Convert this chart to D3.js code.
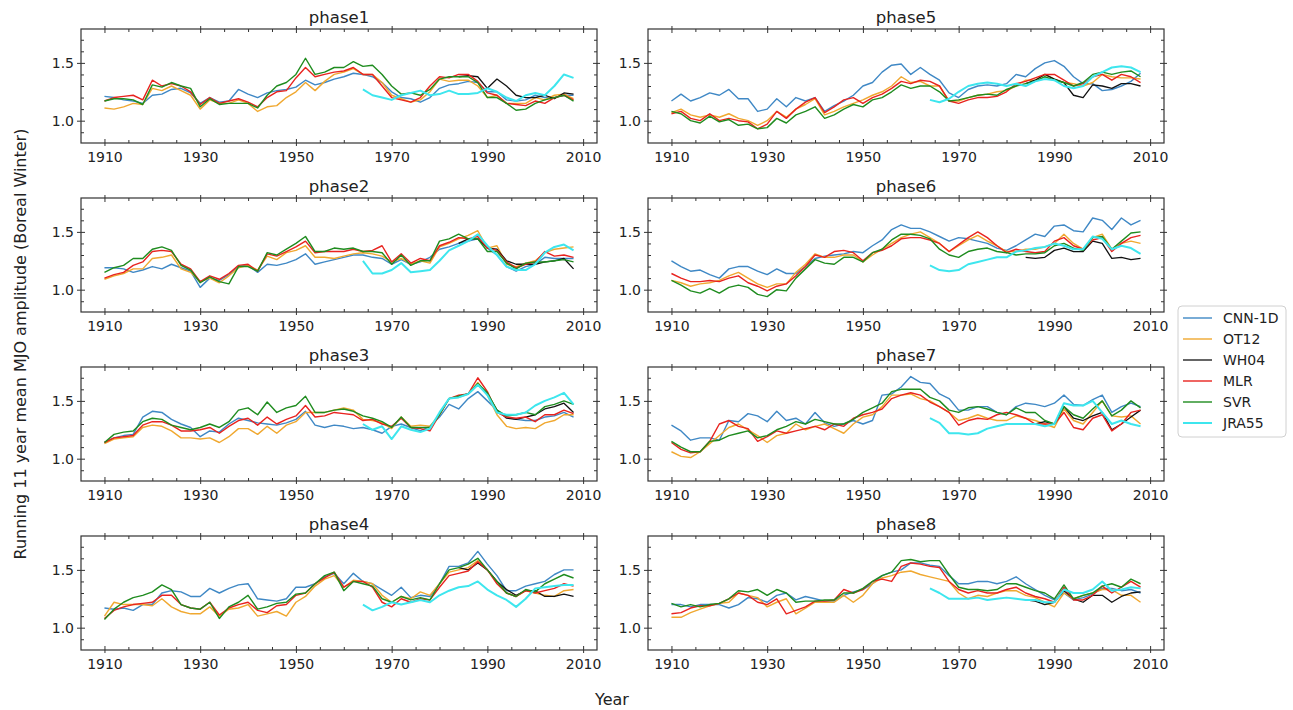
<!DOCTYPE html>
<html>
<head>
<meta charset="utf-8">
<script src="https://cdn.jsdelivr.net/npm/d3@7"></script>
<style>
body { margin: 0; background: #fff; }
text { font-family: "DejaVu Sans", sans-serif; fill: #222; }
</style>
</head>
<body>
<div id="chart"></div>
<script>

// years (every second year of the running mean)
var years = [1910,1912,1914,1916,1918,1920,1922,1924,1926,1928,1930,1932,1934,1936,1938,1940,1942,1944,1946,1948,
  1950,1952,1954,1956,1958,1960,1962,1964,1966,1968,1970,1972,1974,1976,1978,1980,1982,1984,1986,1988,
  1990,1992,1994,1996,1998,2000,2002,2004,2006,2008];
var whYears = [1984,1986,1988,1990,1992,1994,1996,1998,2000,2002,2004,2006,2008];
var jraYears = [1964,1966,1968,1970,1972,1974,1976,1978,1980,1982,1984,1986,1988,1990,1992,1994,1996,1998,2000,2002,2004,2006,2008];

var phases = ["phase1","phase2","phase3","phase4","phase5","phase6","phase7","phase8"];
var seriesNames = ["CNN-1D","OT12","WH04","MLR","SVR","JRA55"];
var xMajorTicks = [1910,1930,1950,1970,1990,2010];
var xMinorTicks = [1915,1920,1925,1935,1940,1945,1955,1960,1965,1975,1980,1985,1995,2000,2005];
var yMajorTicks = [1.0,1.5];
var yMinorTicks = [0.9,1.1,1.2,1.3,1.4,1.6,1.7];

// one row per phase
var cnn1d = [
  [1.21,1.20,1.18,1.17,1.15, 1.22,1.23,1.27,1.28,1.24, 1.15,1.20,1.16,1.17,1.27, 1.23,1.20,1.24,1.26,1.27, 1.29,1.35,1.31,1.33,1.36, 1.38,1.41,1.40,1.38,1.33, 1.25,1.20,1.19,1.16,1.20, 1.28,1.31,1.32,1.34,1.33, 1.25,1.25,1.18,1.17,1.18, 1.22,1.20,1.20,1.22,1.22],
  [1.19,1.19,1.18,1.15,1.17, 1.20,1.18,1.22,1.19,1.16, 1.02,1.10,1.08,1.13,1.20, 1.21,1.15,1.22,1.21,1.23, 1.26,1.31,1.22,1.24,1.26, 1.28,1.30,1.30,1.28,1.27, 1.22,1.26,1.22,1.24,1.28, 1.35,1.37,1.40,1.42,1.44, 1.36,1.30,1.20,1.16,1.20, 1.22,1.28,1.27,1.27,1.27],
  [1.14,1.18,1.20,1.21,1.36, 1.41,1.40,1.34,1.30,1.27, 1.19,1.24,1.23,1.30,1.35, 1.33,1.31,1.30,1.29,1.31, 1.34,1.41,1.29,1.27,1.29, 1.28,1.26,1.27,1.25,1.22, 1.28,1.30,1.27,1.24,1.28, 1.36,1.47,1.43,1.52,1.58, 1.50,1.42,1.36,1.34,1.33, 1.33,1.36,1.37,1.40,1.36],
  [1.17,1.16,1.17,1.15,1.20, 1.20,1.30,1.32,1.31,1.27, 1.27,1.34,1.30,1.34,1.37, 1.38,1.25,1.24,1.23,1.25, 1.35,1.35,1.38,1.44,1.47, 1.38,1.47,1.40,1.38,1.33, 1.28,1.35,1.26,1.28,1.27, 1.38,1.53,1.53,1.56,1.66, 1.55,1.45,1.32,1.32,1.36, 1.38,1.40,1.46,1.50,1.50],
  [1.17,1.23,1.17,1.20,1.24, 1.22,1.27,1.19,1.19,1.08, 1.10,1.19,1.12,1.20,1.17, 1.20,1.08,1.13,1.17,1.22, 1.30,1.33,1.42,1.48,1.49, 1.40,1.46,1.40,1.35,1.24, 1.20,1.27,1.30,1.31,1.30, 1.32,1.40,1.38,1.45,1.50, 1.52,1.47,1.38,1.32,1.32, 1.26,1.27,1.30,1.34,1.41],
  [1.25,1.20,1.16,1.17,1.13, 1.10,1.18,1.20,1.20,1.16, 1.13,1.18,1.14,1.14,1.20, 1.27,1.29,1.30,1.31,1.33, 1.32,1.38,1.43,1.52,1.56, 1.53,1.53,1.50,1.46,1.42, 1.45,1.44,1.42,1.40,1.36, 1.34,1.38,1.43,1.48,1.46, 1.55,1.56,1.51,1.50,1.62, 1.60,1.52,1.62,1.56,1.60],
  [1.29,1.24,1.16,1.18,1.18, 1.16,1.33,1.32,1.39,1.37, 1.32,1.41,1.33,1.35,1.30, 1.40,1.31,1.28,1.30,1.33, 1.30,1.33,1.55,1.56,1.62, 1.71,1.66,1.65,1.56,1.52, 1.42,1.42,1.45,1.45,1.40, 1.38,1.45,1.48,1.47,1.45, 1.48,1.55,1.47,1.46,1.51, 1.55,1.40,1.45,1.48,1.45],
  [1.20,1.20,1.18,1.20,1.20, 1.20,1.17,1.20,1.26,1.25, 1.22,1.28,1.30,1.24,1.27, 1.25,1.23,1.23,1.28,1.31, 1.33,1.38,1.45,1.48,1.50, 1.56,1.56,1.54,1.53,1.45, 1.38,1.38,1.40,1.40,1.38, 1.40,1.44,1.38,1.33,1.28, 1.24,1.30,1.24,1.26,1.29, 1.34,1.34,1.32,1.33,1.30]
];

var ot12 = [
  [1.11,1.10,1.12,1.15,1.14, 1.28,1.26,1.30,1.26,1.22, 1.10,1.18,1.15,1.15,1.18, 1.15,1.08,1.12,1.13,1.20, 1.25,1.33,1.26,1.34,1.40, 1.42,1.45,1.40,1.40,1.33, 1.22,1.19,1.16,1.18,1.25, 1.36,1.34,1.35,1.35,1.30, 1.20,1.22,1.15,1.15,1.15, 1.20,1.18,1.22,1.23,1.19],
  [1.09,1.12,1.14,1.18,1.18, 1.27,1.28,1.30,1.18,1.15, 1.07,1.10,1.06,1.12,1.19, 1.21,1.17,1.29,1.26,1.32, 1.34,1.38,1.28,1.28,1.27, 1.29,1.31,1.32,1.31,1.29, 1.24,1.27,1.22,1.25,1.23, 1.37,1.40,1.44,1.47,1.51, 1.36,1.38,1.22,1.20,1.23, 1.25,1.32,1.35,1.36,1.37],
  [1.13,1.17,1.18,1.19,1.27, 1.29,1.28,1.24,1.18,1.18, 1.17,1.18,1.14,1.19,1.26, 1.26,1.21,1.28,1.22,1.29, 1.32,1.40,1.40,1.40,1.42, 1.44,1.42,1.34,1.33,1.31, 1.26,1.36,1.28,1.29,1.28, 1.38,1.52,1.53,1.56,1.66, 1.55,1.38,1.28,1.26,1.27, 1.26,1.31,1.33,1.38,1.38],
  [1.10,1.22,1.20,1.20,1.20, 1.19,1.25,1.18,1.14,1.12, 1.12,1.18,1.10,1.16,1.17, 1.20,1.10,1.12,1.14,1.10, 1.22,1.27,1.36,1.42,1.45, 1.35,1.41,1.40,1.38,1.28, 1.22,1.27,1.25,1.31,1.28, 1.38,1.48,1.50,1.52,1.58, 1.50,1.40,1.30,1.27,1.32, 1.30,1.28,1.27,1.32,1.33],
  [1.07,1.10,1.05,1.03,1.05, 1.03,1.06,1.02,1.00,0.96, 1.00,1.08,1.03,1.10,1.14, 1.19,1.05,1.08,1.12,1.15, 1.18,1.22,1.25,1.30,1.38, 1.33,1.34,1.30,1.30,1.17, 1.17,1.20,1.22,1.23,1.25, 1.26,1.30,1.35,1.35,1.40, 1.36,1.33,1.32,1.30,1.33, 1.40,1.38,1.37,1.37,1.36],
  [1.08,1.06,1.03,1.05,1.06, 1.08,1.12,1.15,1.10,1.05, 1.02,1.05,1.05,1.15,1.22, 1.31,1.28,1.28,1.30,1.30, 1.24,1.30,1.35,1.40,1.45, 1.48,1.50,1.45,1.40,1.33, 1.38,1.43,1.47,1.42,1.38, 1.33,1.33,1.35,1.35,1.37, 1.40,1.48,1.40,1.35,1.45, 1.48,1.35,1.40,1.42,1.40],
  [1.06,1.02,1.01,1.06,1.13, 1.20,1.27,1.30,1.25,1.20, 1.14,1.20,1.22,1.30,1.25, 1.28,1.30,1.26,1.22,1.30, 1.36,1.38,1.45,1.55,1.55, 1.56,1.52,1.50,1.45,1.40, 1.33,1.35,1.38,1.35,1.33, 1.33,1.37,1.35,1.33,1.30, 1.27,1.43,1.33,1.30,1.40, 1.50,1.37,1.36,1.37,1.30],
  [1.09,1.09,1.13,1.16,1.19, 1.21,1.22,1.30,1.28,1.26, 1.18,1.22,1.25,1.12,1.17, 1.22,1.22,1.22,1.28,1.22, 1.28,1.38,1.43,1.45,1.48, 1.49,1.46,1.44,1.42,1.40, 1.30,1.25,1.28,1.27,1.30, 1.32,1.32,1.28,1.26,1.22, 1.18,1.30,1.25,1.28,1.30, 1.33,1.33,1.28,1.28,1.22]
];

var wh04 = [
  [1.38,1.39,1.38,1.28,1.36,1.30,1.22,1.20,1.20,1.22,1.19,1.24,1.23],
  [1.40,1.44,1.44,1.36,1.35,1.25,1.22,1.22,1.22,1.24,1.25,1.27,1.18],
  [1.54,1.56,1.64,1.56,1.42,1.35,1.34,1.36,1.38,1.43,1.45,1.48,1.40],
  [1.52,1.50,1.56,1.50,1.40,1.33,1.28,1.32,1.32,1.27,1.27,1.29,1.27],
  [1.32,1.35,1.40,1.36,1.33,1.22,1.20,1.31,1.30,1.28,1.32,1.32,1.30],
  [1.28,1.27,1.28,1.34,1.36,1.33,1.33,1.42,1.40,1.27,1.28,1.26,1.27],
  [1.30,1.30,1.32,1.30,1.45,1.35,1.33,1.37,1.40,1.25,1.30,1.36,1.42],
  [1.24,1.23,1.20,1.22,1.32,1.25,1.22,1.28,1.28,1.22,1.27,1.30,1.31]
];

var mlr = [
  [1.17,1.20,1.21,1.22,1.18, 1.35,1.30,1.32,1.30,1.25, 1.14,1.20,1.15,1.17,1.19, 1.16,1.12,1.20,1.25,1.26, 1.37,1.46,1.38,1.40,1.42, 1.43,1.46,1.40,1.40,1.30, 1.20,1.18,1.16,1.20,1.30, 1.38,1.37,1.40,1.40,1.34, 1.24,1.22,1.15,1.14,1.13, 1.17,1.15,1.20,1.22,1.18],
  [1.10,1.13,1.15,1.21,1.24, 1.33,1.34,1.33,1.22,1.18, 1.07,1.12,1.09,1.14,1.21, 1.22,1.16,1.31,1.29,1.33, 1.37,1.42,1.32,1.33,1.33, 1.33,1.35,1.33,1.34,1.38, 1.24,1.31,1.23,1.27,1.25, 1.38,1.41,1.45,1.44,1.46, 1.36,1.34,1.24,1.19,1.22, 1.24,1.33,1.29,1.30,1.28],
  [1.14,1.18,1.19,1.20,1.29, 1.32,1.32,1.29,1.24,1.24, 1.25,1.27,1.22,1.28,1.33, 1.35,1.29,1.36,1.30,1.34, 1.37,1.46,1.36,1.37,1.40, 1.39,1.38,1.33,1.34,1.30, 1.28,1.35,1.27,1.26,1.24, 1.38,1.52,1.55,1.56,1.70, 1.58,1.40,1.36,1.35,1.36, 1.32,1.38,1.38,1.42,1.39],
  [1.08,1.15,1.18,1.20,1.21, 1.22,1.28,1.28,1.20,1.17, 1.16,1.22,1.11,1.17,1.20, 1.22,1.15,1.13,1.19,1.20, 1.28,1.30,1.38,1.43,1.48, 1.35,1.40,1.40,1.35,1.22, 1.18,1.25,1.22,1.25,1.24, 1.35,1.45,1.47,1.49,1.57, 1.50,1.38,1.30,1.27,1.32, 1.30,1.32,1.34,1.38,1.36],
  [1.06,1.08,1.02,1.00,1.06, 1.00,1.02,1.00,0.99,0.93, 0.97,1.08,1.02,1.10,1.16, 1.20,1.07,1.12,1.18,1.20, 1.15,1.20,1.23,1.28,1.34, 1.32,1.35,1.34,1.30,1.17, 1.15,1.18,1.20,1.20,1.21, 1.25,1.32,1.34,1.37,1.40, 1.40,1.35,1.30,1.32,1.38, 1.40,1.35,1.40,1.38,1.33],
  [1.14,1.10,1.07,1.07,1.08, 1.07,1.10,1.12,1.06,1.03, 0.99,1.03,1.05,1.12,1.20, 1.30,1.28,1.33,1.34,1.32, 1.25,1.32,1.34,1.38,1.44, 1.45,1.45,1.43,1.40,1.33, 1.39,1.45,1.50,1.45,1.38, 1.32,1.35,1.33,1.32,1.33, 1.42,1.45,1.38,1.35,1.43, 1.45,1.33,1.40,1.45,1.47],
  [1.14,1.08,1.05,1.06,1.15, 1.30,1.33,1.28,1.26,1.15, 1.19,1.24,1.22,1.24,1.26, 1.28,1.25,1.30,1.28,1.35, 1.38,1.40,1.43,1.52,1.55, 1.57,1.55,1.49,1.45,1.40, 1.29,1.33,1.35,1.34,1.38, 1.40,1.38,1.35,1.30,1.30, 1.30,1.40,1.27,1.25,1.35, 1.38,1.24,1.30,1.40,1.42],
  [1.12,1.13,1.17,1.19,1.19, 1.21,1.25,1.30,1.28,1.22, 1.20,1.25,1.12,1.15,1.18, 1.23,1.23,1.24,1.33,1.30, 1.33,1.40,1.42,1.40,1.53, 1.56,1.55,1.53,1.52,1.40, 1.33,1.30,1.32,1.30,1.30, 1.33,1.35,1.30,1.27,1.25, 1.22,1.35,1.24,1.24,1.28, 1.36,1.30,1.35,1.40,1.35]
];

var svr = [
  [1.17,1.19,1.19,1.18,1.14, 1.31,1.29,1.33,1.30,1.28, 1.12,1.19,1.14,1.15,1.15, 1.15,1.11,1.22,1.30,1.33, 1.40,1.54,1.40,1.42,1.46, 1.46,1.51,1.47,1.48,1.40, 1.30,1.23,1.24,1.22,1.27, 1.36,1.38,1.38,1.38,1.33, 1.20,1.20,1.15,1.09,1.10, 1.15,1.18,1.20,1.22,1.17],
  [1.15,1.19,1.21,1.27,1.27, 1.35,1.37,1.34,1.21,1.17, 1.06,1.11,1.07,1.05,1.20, 1.20,1.16,1.32,1.30,1.35, 1.40,1.46,1.33,1.33,1.36, 1.35,1.36,1.33,1.33,1.32, 1.22,1.30,1.21,1.25,1.25, 1.42,1.44,1.48,1.44,1.44, 1.33,1.33,1.23,1.18,1.23, 1.24,1.24,1.25,1.26,1.24],
  [1.14,1.21,1.23,1.24,1.32, 1.35,1.34,1.29,1.27,1.25, 1.27,1.30,1.27,1.32,1.42, 1.44,1.38,1.49,1.40,1.44, 1.46,1.54,1.40,1.40,1.42, 1.43,1.41,1.37,1.35,1.32, 1.27,1.36,1.27,1.27,1.27, 1.38,1.52,1.54,1.56,1.65, 1.57,1.42,1.37,1.38,1.40, 1.38,1.45,1.47,1.50,1.47],
  [1.07,1.16,1.22,1.26,1.28, 1.31,1.37,1.33,1.20,1.17, 1.16,1.22,1.08,1.18,1.22, 1.28,1.16,1.18,1.21,1.22, 1.29,1.30,1.38,1.45,1.48, 1.32,1.40,1.38,1.36,1.25, 1.22,1.27,1.24,1.26,1.24, 1.38,1.50,1.52,1.55,1.60, 1.50,1.40,1.30,1.27,1.33, 1.31,1.38,1.42,1.46,1.43],
  [1.08,1.06,1.00,0.98,1.04, 0.99,1.01,0.96,0.97,0.93, 0.94,1.02,0.98,1.05,1.08, 1.12,1.02,1.05,1.10,1.14, 1.12,1.18,1.20,1.25,1.31, 1.28,1.30,1.30,1.25,1.17, 1.18,1.20,1.22,1.23,1.22, 1.27,1.30,1.32,1.34,1.38, 1.35,1.33,1.30,1.33,1.40, 1.42,1.40,1.42,1.43,1.38],
  [1.08,1.04,0.99,0.97,1.01, 0.97,1.02,1.04,1.02,0.96, 0.94,1.00,0.99,1.10,1.18, 1.26,1.23,1.22,1.28,1.28, 1.24,1.32,1.35,1.43,1.48, 1.48,1.47,1.44,1.35,1.30, 1.28,1.33,1.35,1.36,1.33, 1.32,1.30,1.31,1.31,1.32, 1.38,1.40,1.36,1.34,1.45, 1.46,1.35,1.42,1.49,1.50],
  [1.15,1.10,1.06,1.06,1.15, 1.16,1.20,1.22,1.24,1.18, 1.20,1.25,1.28,1.32,1.30, 1.34,1.32,1.30,1.30,1.34, 1.40,1.44,1.48,1.58,1.60, 1.60,1.60,1.53,1.50,1.42, 1.40,1.44,1.45,1.43,1.40, 1.38,1.44,1.40,1.40,1.33, 1.30,1.45,1.38,1.35,1.43, 1.50,1.37,1.42,1.50,1.44],
  [1.21,1.18,1.20,1.18,1.20, 1.21,1.25,1.32,1.31,1.33, 1.28,1.33,1.30,1.22,1.23, 1.23,1.24,1.24,1.30,1.30, 1.34,1.40,1.45,1.48,1.58, 1.59,1.57,1.58,1.58,1.46, 1.35,1.33,1.33,1.32,1.33, 1.38,1.38,1.35,1.32,1.30, 1.25,1.37,1.25,1.28,1.30, 1.36,1.38,1.35,1.42,1.38]
];

var jra55 = [
  [1.27,1.22,1.20,1.18,1.22,1.24,1.26,1.22,1.23,1.26,1.23,1.23,1.24,1.28,1.25,1.20,1.17,1.22,1.24,1.22,1.30,1.40,1.37],
  [1.25,1.14,1.14,1.17,1.23,1.15,1.16,1.17,1.25,1.34,1.38,1.42,1.48,1.38,1.30,1.20,1.17,1.17,1.22,1.32,1.37,1.39,1.34],
  [1.30,1.25,1.28,1.17,1.28,1.25,1.23,1.26,1.40,1.52,1.53,1.56,1.64,1.55,1.40,1.38,1.38,1.40,1.46,1.50,1.53,1.57,1.47],
  [1.20,1.15,1.18,1.22,1.20,1.22,1.24,1.22,1.28,1.32,1.35,1.36,1.40,1.33,1.28,1.24,1.18,1.25,1.34,1.35,1.36,1.37,1.37],
  [1.18,1.16,1.19,1.25,1.30,1.32,1.33,1.32,1.30,1.32,1.30,1.34,1.36,1.35,1.30,1.28,1.30,1.38,1.42,1.46,1.47,1.46,1.42],
  [1.21,1.17,1.16,1.17,1.22,1.24,1.26,1.28,1.28,1.33,1.34,1.36,1.37,1.40,1.38,1.35,1.35,1.46,1.44,1.35,1.38,1.36,1.31],
  [1.35,1.31,1.22,1.22,1.21,1.22,1.26,1.28,1.30,1.30,1.30,1.30,1.28,1.30,1.48,1.46,1.46,1.50,1.40,1.30,1.33,1.30,1.28],
  [1.34,1.30,1.25,1.25,1.25,1.26,1.24,1.25,1.26,1.25,1.24,1.24,1.22,1.22,1.33,1.30,1.30,1.33,1.40,1.32,1.33,1.35,1.34]
];

var svgWidth = 1293;
var svgHeight = 710;

var panelWidth = 516;
var panelHeight = 114;
var colLeft = [81, 648];
var rowTop = [29, 198, 367, 536];

var colors = ["#3f88c5", "#f0a830", "#111111", "#e8231f", "#1f8c1f", "#3ee6ee"];
var widths = [1.4, 1.4, 1.3, 1.4, 1.4, 2.0];

var svg = d3.select("#chart")
    .append("svg")
    .attr("width", svgWidth)
    .attr("height", svgHeight)
    .style("background", "#fff");

var xScale = d3.scaleLinear()
    .domain([1905.1, 2012.9])
    .range([0, panelWidth]);

var yScale = d3.scaleLinear()
    .domain([0.807, 1.793])
    .range([panelHeight, 0]);

var line = d3.line()
    .x(d => xScale(d[0]))
    .y(d => yScale(d[1]));

// draw a set of ticks with a d3 axis, without the domain line
function tickSet(g, axisFn, scale, values, size, fmt, pad) {
    var ax = axisFn(scale).tickValues(values).tickSize(size);
    if (fmt) {
        ax.tickFormat(fmt).tickPadding(pad);
    } else {
        ax.tickFormat("");
    }
    g.call(ax);
    g.select(".domain").remove();
    g.selectAll("line").attr("stroke", "#333");
    g.selectAll("text")
        .style("font-size", "14px")
        .style("font-family", "DejaVu Sans, sans-serif")
        .attr("fill", "#222");
}

phases.forEach(function(name, i) {
    var col = i < 4 ? 0 : 1;
    var row = i % 4;

    var chartGroup = svg.append("g")
        .attr("transform", `translate(${colLeft[col]},${rowTop[row]})`);

    // the series, in legend order
    var seriesData = [
        years.map((yr, k) => [yr, cnn1d[i][k]]),
        years.map((yr, k) => [yr, ot12[i][k]]),
        whYears.map((yr, k) => [yr, wh04[i][k]]),
        years.map((yr, k) => [yr, mlr[i][k]]),
        years.map((yr, k) => [yr, svr[i][k]]),
        jraYears.map((yr, k) => [yr, jra55[i][k]])
    ];

    chartGroup.selectAll("path.series")
        .data(seriesData)
        .enter()
        .append("path")
        .attr("class", "series")
        .attr("d", d => line(d))
        .attr("fill", "none")
        .attr("stroke", (d, j) => colors[j])
        .attr("stroke-width", (d, j) => widths[j])
        .attr("stroke-linejoin", "round");

    // ticks on all four sides
    var bottom = chartGroup.append("g").attr("transform", `translate(0,${panelHeight})`);
    tickSet(bottom.append("g"), d3.axisBottom, xScale, xMajorTicks, 3, d3.format("d"), 6);
    tickSet(bottom.append("g"), d3.axisBottom, xScale, xMajorTicks, -4);
    tickSet(bottom.append("g"), d3.axisBottom, xScale, xMinorTicks, -3);

    var top = chartGroup.append("g");
    tickSet(top.append("g"), d3.axisTop, xScale, xMajorTicks, 3);
    tickSet(top.append("g"), d3.axisTop, xScale, xMajorTicks, -4);
    tickSet(top.append("g"), d3.axisTop, xScale, xMinorTicks, -3);

    var left = chartGroup.append("g");
    tickSet(left.append("g"), d3.axisLeft, yScale, yMajorTicks, 4, d3.format(".1f"), 3);
    tickSet(left.append("g"), d3.axisLeft, yScale, yMajorTicks, -4);
    tickSet(left.append("g"), d3.axisLeft, yScale, yMinorTicks, -3);

    var right = chartGroup.append("g").attr("transform", `translate(${panelWidth},0)`);
    tickSet(right.append("g"), d3.axisRight, yScale, yMajorTicks, 3);
    tickSet(right.append("g"), d3.axisRight, yScale, yMajorTicks, -4);
    tickSet(right.append("g"), d3.axisRight, yScale, yMinorTicks, -3);

    chartGroup.append("rect")
        .attr("width", panelWidth)
        .attr("height", panelHeight)
        .attr("fill", "none")
        .attr("stroke", "#333")
        .attr("stroke-width", 1.2);

    chartGroup.append("text")
        .attr("x", panelWidth / 2)
        .attr("y", -6)
        .attr("text-anchor", "middle")
        .style("font-size", "16.5px")
        .text(name);
});

// legend
var legend = svg.append("g")
    .attr("transform", "translate(1178,306)");

legend.append("rect")
    .attr("width", 108)
    .attr("height", 131)
    .attr("rx", 4)
    .attr("fill", "#fff")
    .attr("stroke", "#d0d0d0");

var items = legend.selectAll("g.item")
    .data(seriesNames)
    .enter()
    .append("g")
    .attr("class", "item")
    .attr("transform", (d, j) => `translate(0,${12 + j * 21})`);

items.append("line")
    .attr("x1", 5)
    .attr("x2", 34)
    .attr("stroke", (d, j) => colors[j])
    .attr("stroke-width", (d, j) => widths[j]);

items.append("text")
    .attr("x", 45)
    .attr("dy", "0.35em")
    .style("font-size", "14px")
    .text(d => d);

// axis titles
svg.append("text")
    .attr("x", 612)
    .attr("y", 705)
    .attr("text-anchor", "middle")
    .style("font-size", "16px")
    .text("Year");

svg.append("text")
    .attr("transform", "rotate(-90)")
    .attr("x", -344)
    .attr("y", 26)
    .attr("text-anchor", "middle")
    .style("font-size", "16px")
    .text("Running 11 year mean MJO amplitude (Boreal Winter)");

</script>
</body>
</html>
